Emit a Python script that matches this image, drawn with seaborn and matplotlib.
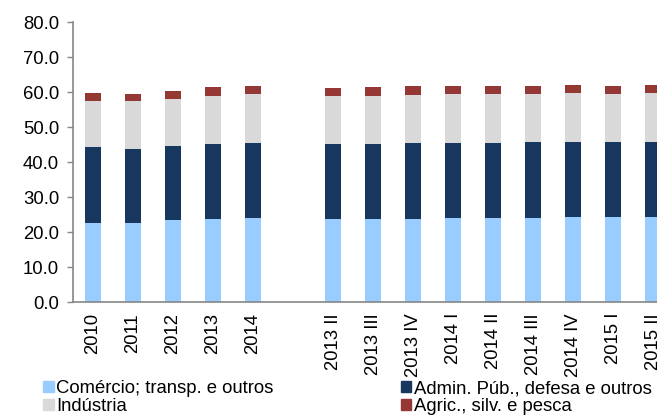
import matplotlib
matplotlib.use("Agg")
import matplotlib.pyplot as plt
import seaborn as sns
import pandas as pd
import numpy as np
from matplotlib.patches import Patch

categories = ["2010", "2011", "2012", "2013", "2014",
              "2013 II", "2013 III", "2013 IV", "2014 I", "2014 II",
              "2014 III", "2014 IV", "2015 I", "2015 II"]
comercio = [22.6, 22.7, 23.4, 23.7, 24.0, 23.8, 23.8, 23.8, 23.9, 23.9, 24.1, 24.2, 24.2, 24.3]
admin = [21.7, 21.1, 21.3, 21.5, 21.5, 21.4, 21.4, 21.5, 21.5, 21.5, 21.5, 21.5, 21.4, 21.3]
industria = [13.2, 13.6, 13.4, 13.7, 14.0, 13.6, 13.6, 13.9, 14.0, 13.9, 13.9, 13.9, 13.8, 14.1]
agric = [2.1, 2.0, 2.2, 2.4, 2.2, 2.4, 2.5, 2.4, 2.3, 2.3, 2.3, 2.3, 2.3, 2.4]

series_names = ["Comércio; transp. e outros", "Admin. Púb., defesa e outros",
                "Indústria", "Agric., silv. e pesca"]
colors = ["#99CCFF", "#17375E", "#D9D9D9", "#953735"]

order = categories[:5] + [" "] + categories[5:]

df = pd.DataFrame({"cat": categories, "c": comercio, "a": admin, "i": industria, "g": agric})
df["s1"] = df["c"]
df["s2"] = df["s1"] + df["a"]
df["s3"] = df["s2"] + df["i"]
df["s4"] = df["s3"] + df["g"]

FS = 13.3
plt.rcParams["font.family"] = ["Liberation Sans", "DejaVu Sans"]
fig = plt.figure(figsize=(6.57, 4.15), dpi=100)
ax = fig.add_axes([73 / 657, 1 - 302 / 415, 600 / 657, 280 / 415])

for col, color in zip(["s4", "s3", "s2", "s1"], [colors[3], colors[2], colors[1], colors[0]]):
    sns.barplot(data=df, x="cat", y=col, order=order, color=color, saturation=1,
                width=0.4, linewidth=0, ax=ax, errorbar=None)

ax.set_xlim(-0.5, len(order) - 0.5)
ax.set_ylim(0, 80)
ax.set_yticks(np.arange(0, 81, 10))
ax.set_yticklabels([f"{v:.1f}" for v in np.arange(0, 81, 10)], fontsize=FS)
ax.set_xticks(range(len(order)))
ax.set_xticklabels(order, rotation=90, fontsize=FS, va="top", ha="center")
ax.set_xlabel("")
ax.set_ylabel("")
for s in ["top", "right"]:
    ax.spines[s].set_visible(False)
for s in ["left", "bottom"]:
    ax.spines[s].set_color("#868686")
    ax.spines[s].set_linewidth(1.2)
ax.tick_params(axis="y", direction="out", length=4, width=1, color="#868686", pad=6)
ax.tick_params(axis="x", length=0, pad=8)

handles = [Patch(color=colors[0]), Patch(color=colors[2]), Patch(color=colors[1]), Patch(color=colors[3])]
labels = [series_names[0], series_names[2], series_names[1], series_names[3]]
fig.legend(handles, labels, ncol=2, loc="lower left", bbox_to_anchor=(36 / 657, -0.018),
           frameon=False, fontsize=FS, handlelength=0.55, handleheight=0.55,
           handletextpad=0.15, columnspacing=6.9, labelspacing=0.05, borderaxespad=0)

fig.savefig("out.png", dpi=100)
